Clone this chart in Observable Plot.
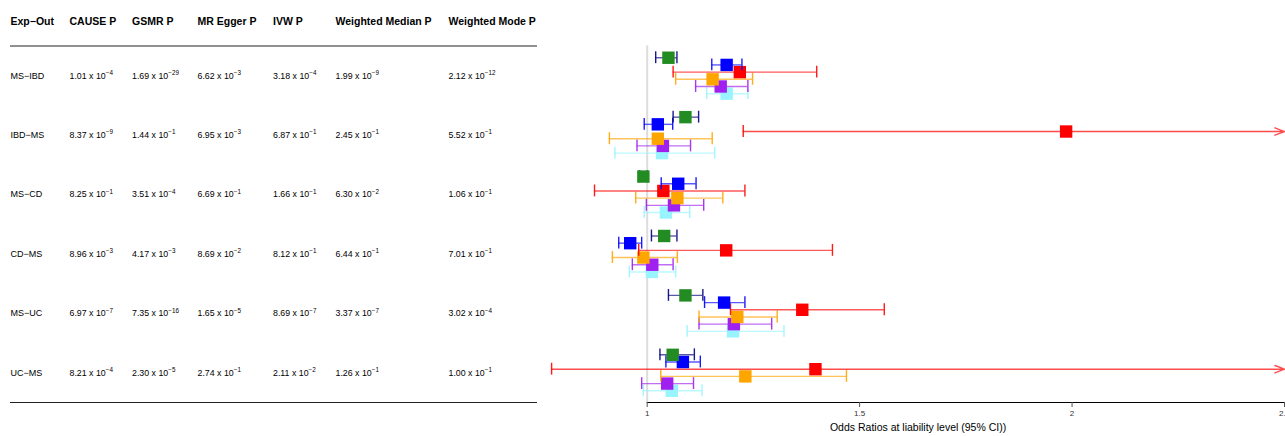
<!DOCTYPE html>
<html><head><meta charset="utf-8">
<script src="https://cdn.jsdelivr.net/npm/d3@7"></script>
<script src="https://cdn.jsdelivr.net/npm/@observablehq/plot@0.6"></script>
<style>
html,body{margin:0;padding:0;background:#fff;overflow:hidden;}
</style></head><body><div id="chart"></div>
<script>
// ---- table data ----
const pairs = ["MS−IBD", "IBD−MS", "MS−CD", "CD−MS", "MS−UC", "UC−MS"];
const headers = ["Exp−Out", "CAUSE P", "GSMR P", "MR Egger P", "IVW P", "Weighted Median P", "Weighted Mode P"];
const pCause  = [1.01e-4, 8.37e-9, 8.25e-1, 8.96e-3, 6.97e-7, 8.21e-4];
const pGsmr   = [1.69e-29, 1.44e-1, 3.51e-4, 4.17e-3, 7.35e-16, 2.30e-5];
const pEgger  = [6.62e-3, 6.95e-3, 6.69e-1, 8.69e-2, 1.65e-5, 2.74e-1];
const pIvw    = [3.18e-4, 6.87e-1, 1.66e-1, 8.12e-1, 8.69e-7, 2.11e-2];
const pWMed   = [1.99e-9, 2.45e-1, 6.30e-2, 6.44e-1, 3.37e-7, 1.26e-1];
const pWMode  = [2.12e-12, 5.52e-1, 1.06e-1, 7.01e-1, 3.02e-4, 1.00e-1];

// ---- forest data (odds ratios, 95% CI), rows in the order of pairs ----
const methods = ["CAUSE", "GSMR", "MR Egger", "IVW", "Weighted Median", "Weighted Mode"];
const orCause = [1.050, 1.090, 0.991, 1.040, 1.090, 1.060];
const loCause = [1.020, 1.061, 0.982, 1.010, 1.050, 1.030];
const hiCause = [1.070, 1.121, 1.000, 1.070, 1.131, 1.111];
const orGsmr  = [1.187, 1.025, 1.073, 0.960, 1.181, 1.084];
const loGsmr  = [1.152, 0.993, 1.033, 0.933, 1.135, 1.044];
const hiGsmr  = [1.223, 1.060, 1.115, 0.987, 1.230, 1.125];
const orEgger = [1.218, 1.986, 1.038, 1.186, 1.365, 1.396];
const loEgger = [1.061, 1.226, 0.876, 0.980, 1.196, 0.775];
const hiEgger = [1.399, 3.220, 1.230, 1.436, 1.558, 2.520];
const orIvw   = [1.154, 1.025, 1.071, 0.991, 1.212, 1.231];
const loIvw   = [1.067, 0.911, 0.973, 0.918, 1.122, 1.032];
const hiIvw   = [1.248, 1.153, 1.178, 1.071, 1.306, 1.469];
const orWMed  = [1.173, 1.037, 1.063, 1.012, 1.204, 1.047];
const loWMed  = [1.114, 0.976, 0.998, 0.965, 1.122, 0.987];
const hiWMed  = [1.237, 1.102, 1.133, 1.061, 1.293, 1.109];
const orWMode = [1.187, 1.035, 1.044, 1.011, 1.202, 1.058];
const loWMode = [1.140, 0.924, 0.993, 0.958, 1.094, 0.991];
const hiWMode = [1.237, 1.159, 1.100, 1.067, 1.322, 1.129];

const boxColors = ["#228B22", "#0000FF", "#FF0000", "#FFA500", "#A020F0", "#98F5FF"];
const ciColors  = ["#000080", "#0000FF", "#FF0000", "#FFA500", "#A020F0", "#98F5FF"];
const axisTicks = [1, 1.5, 2, 2.5];
const xLabel = "Odds Ratios at liability level (95% CI))";

// ---- build ----
const pCols = [pCause, pGsmr, pEgger, pIvw, pWMed, pWMode];
const orCols = [orCause, orGsmr, orEgger, orIvw, orWMed, orWMode];
const loCols = [loCause, loGsmr, loEgger, loIvw, loWMed, loWMode];
const hiCols = [hiCause, hiGsmr, hiEgger, hiIvw, hiWMed, hiWMode];
const colX = [10, 69, 131.5, 197, 272.5, 335, 448];
const xMax = axisTicks[axisTicks.length - 1];

const fmtP = p => {
  const [m, e] = p.toExponential(2).split("e");
  return `${m} x 10^${e.replace("-", "−").replace("+", "")}`;
};

const series = methods.map((m, k) => pairs.map((p, i) => ({
  method: m, k, row: i,
  y: i + (k - 2.5) * 0.121,
  or: orCols[k][i], lo: loCols[k][i], hi: hiCols[k][i]
})));

const minLo = d3.min(loCols.flat());
const marks = [];

// table
headers.forEach((h, j) => {
  marks.push(Plot.text([h], {frameAnchor: "top-left", dx: colX[j], dy: -28.5, textAnchor: "start",
    fontWeight: "bold", fontSize: 10.5, fill: "#000"}));
});
marks.push(Plot.text(pairs, {y: (d, i) => i, frameAnchor: "left", dx: colX[0], textAnchor: "start", fontSize: 9, fill: "#000"}));
pCols.forEach((col, j) => {
  marks.push(Plot.text(col, {y: (d, i) => i, text: fmtP, frameAnchor: "left", dx: colX[j + 1], textAnchor: "start", fontSize: 8.8, fill: "#000"}));
});
marks.push(Plot.ruleY([-0.5, 5.5], {insetLeft: 10, insetRight: 1285 - 537, stroke: "#222", strokeWidth: 1}));

// reference line
marks.push(Plot.ruleX([1], {y1: -0.5, y2: 5.5, stroke: "#dcdcdc", strokeWidth: 2}));

// forest
for (let k = methods.length - 1; k >= 0; k--) {
  const rows = series[k];
  const inside = rows.filter(d => d.hi <= xMax);
  const beyond = rows.filter(d => d.hi > xMax);
  const c = ciColors[k];
  marks.push(Plot.ruleY(inside, {y: "y", x1: "lo", x2: "hi", stroke: c, strokeWidth: 1.4, strokeOpacity: 0.65}));
  marks.push(Plot.arrow(beyond, {x1: "lo", x2: () => xMax, y1: "y", y2: "y", stroke: c, strokeWidth: 1.4,
    strokeOpacity: 0.7, headLength: 11, headAngle: 42}));
  marks.push(Plot.ruleX(rows, {x: "lo", y1: d => d.y - 0.1, y2: d => d.y + 0.1, stroke: c, strokeWidth: 1.4, strokeOpacity: 0.9}));
  marks.push(Plot.ruleX(inside, {x: "hi", y1: d => d.y - 0.1, y2: d => d.y + 0.1, stroke: c, strokeWidth: 1.4, strokeOpacity: 0.9}));
  marks.push(Plot.dot(rows, {x: "or", y: "y", symbol: "square", r: 7, fill: boxColors[k], stroke: "none"}));
}

// axis
marks.push(Plot.ruleY([5.5], {x1: axisTicks[0], x2: xMax, stroke: "#000", strokeWidth: 1.2}));
marks.push(Plot.axisX(axisTicks, {tickSize: 5, tickPadding: 3, fontSize: 8, tickFormat: d => String(d), label: null, stroke: "#555", fill: "#333"}));
marks.push(Plot.text([xLabel], {x: (minLo + xMax) / 2, frameAnchor: "bottom", dy: 28, fontSize: 10.5, fill: "#000"}));

const svg = Plot.plot({
  width: 1285, height: 436,
  marginLeft: 0, marginRight: 0, marginTop: 45.5, marginBottom: 34,
  x: {domain: [1, xMax], range: [646.7, 1284], axis: null},
  y: {domain: [-0.5, 5.5], range: [45.5, 402], axis: null},
  style: {fontFamily: "'Liberation Sans', Arial, Helvetica, sans-serif", background: "white", overflow: "visible"},
  marks
});

// superscript exponents
svg.querySelectorAll("text").forEach(t => {
  const m = /^(.*) x 10\^(.*)$/.exec(t.textContent);
  if (m) {
    t.textContent = m[1] + " x 10";
    const ts = document.createElementNS("http://www.w3.org/2000/svg", "tspan");
    ts.setAttribute("dy", "-3.6");
    ts.setAttribute("font-size", "6.3");
    ts.textContent = m[2];
    t.appendChild(ts);
  }
});
document.getElementById("chart").appendChild(svg);
</script></body></html>
